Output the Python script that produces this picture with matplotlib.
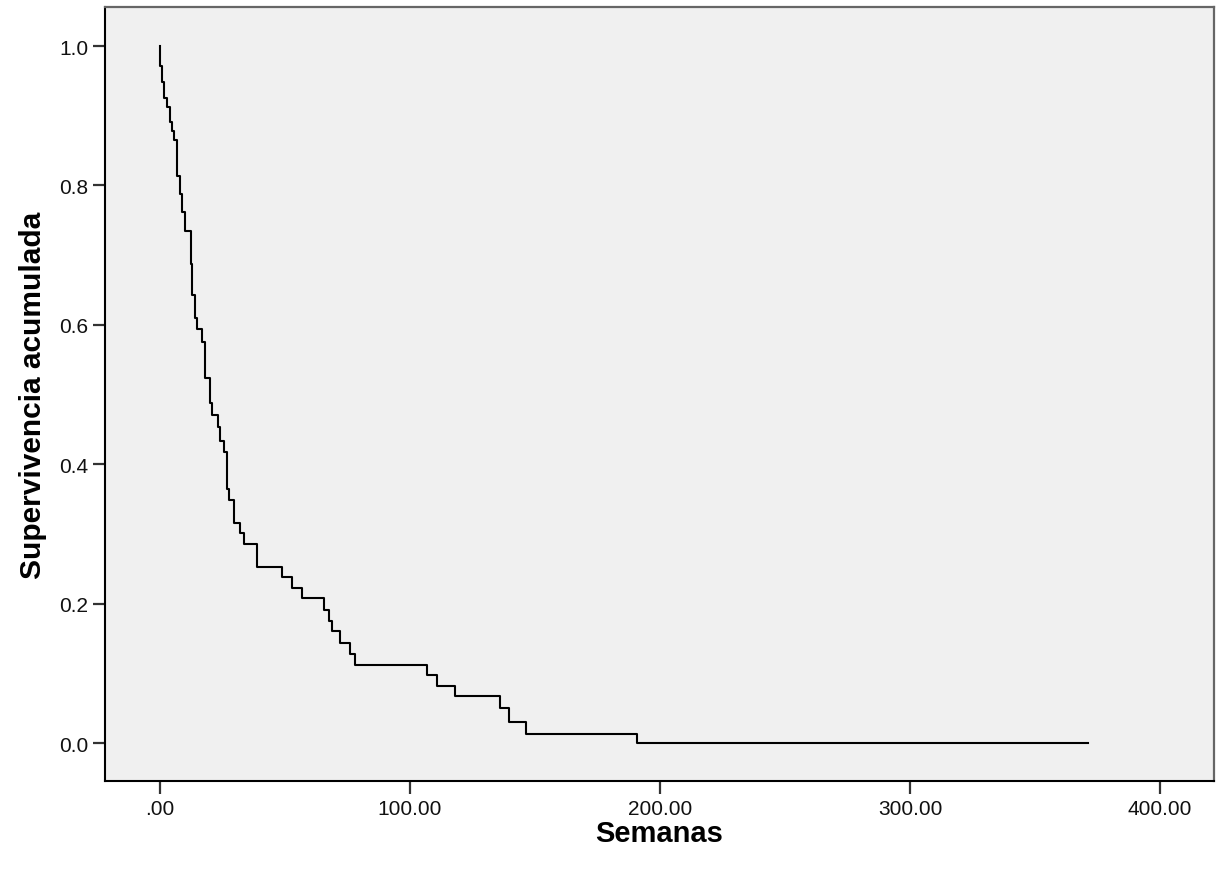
import numpy as np, matplotlib; matplotlib.use("Agg")
import matplotlib.pyplot as plt

plt.rcParams.update({"font.family": ["Liberation Sans", "DejaVu Sans"]})

# Kaplan-Meier curve (time in weeks, survival after each drop)
semanas = [0.0, 0.0, 0.8, 1.7, 2.7, 4.0, 4.8, 5.7, 6.9, 7.9, 8.9, 9.9, 12.3, 12.9,
           14.0, 14.9, 16.9, 17.9, 20.0, 20.8, 23.1, 23.9, 25.7, 26.9, 27.7, 29.6,
           32.0, 33.6, 38.9, 48.8, 52.7, 56.8, 65.7, 67.7, 68.7, 72.0, 76.0, 78.0,
           106.9, 110.9, 118.0, 136.0, 139.7, 146.3, 190.7, 371.2]
supervivencia = [1.0, 0.972, 0.948, 0.925, 0.913, 0.891, 0.878, 0.865, 0.814, 0.788,
                 0.762, 0.735, 0.687, 0.643, 0.610, 0.594, 0.576, 0.524, 0.488, 0.471,
                 0.453, 0.434, 0.417, 0.364, 0.349, 0.316, 0.301, 0.285, 0.253, 0.238,
                 0.222, 0.208, 0.191, 0.175, 0.161, 0.144, 0.128, 0.112, 0.098, 0.082,
                 0.067, 0.050, 0.030, 0.013, 0.0, 0.0]
xticks = [0, 100, 200, 300, 400]
xlabels = [".00", "100.00", "200.00", "300.00", "400.00"]
yticks = [0.0, 0.2, 0.4, 0.6, 0.8, 1.0]

fig = plt.figure(figsize=(12.19, 8.78), dpi=100)
ax = fig.add_axes([0.0861, 0.1093, 0.9098, 0.8816])
ax.set_facecolor("#f0f0f0")
ax.step(semanas, supervivencia, where="post", color="black", lw=1.5)

ax.set_xlim(-22, 421.6)
ax.set_ylim(-0.0545, 1.056)
ax.set_xticks(xticks)
ax.set_xticklabels(xlabels)
ax.set_yticks(yticks)
ax.set_yticklabels([f"{v:.1f}" for v in yticks])
ax.tick_params(axis="both", length=9, width=1.6, color="#333333", labelsize=15, colors="#111111")
ax.tick_params(axis="x", pad=4)
ax.tick_params(axis="y", pad=3)

for s in ["left", "bottom"]:
    ax.spines[s].set_color("black"); ax.spines[s].set_linewidth(1.5)
for s in ["top", "right"]:
    ax.spines[s].set_color("#666666"); ax.spines[s].set_linewidth(1.6)

ax.set_xlabel("Semanas", fontsize=21, fontweight="bold", labelpad=1)
ax.set_ylabel("Supervivencia acumulada", fontsize=21.5, fontweight="bold", labelpad=9)

fig.savefig("out.png", dpi=100, facecolor="white")
